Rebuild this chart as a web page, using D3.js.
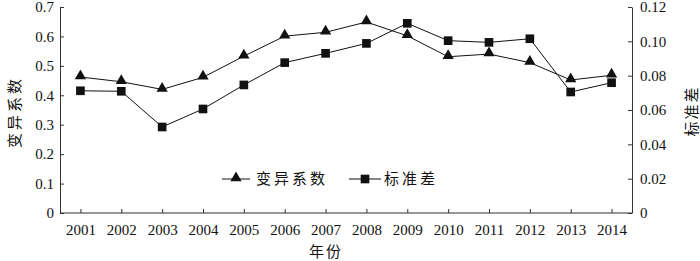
<!DOCTYPE html>
<html><head><meta charset="utf-8">
<script src="https://cdn.jsdelivr.net/npm/d3@7"></script>
<style>body{margin:0;background:#fff}svg{display:block}</style>
</head><body>
<svg id="c" width="700" height="261"></svg>
<script>
const years = ["2001","2002","2003","2004","2005","2006","2007","2008","2009","2010","2011","2012","2013","2014"];
const cv = [0.462,0.446,0.420,0.461,0.533,0.601,0.614,0.649,0.602,0.531,0.540,0.511,0.452,0.468];
const sd = [0.0712,0.0709,0.0501,0.0606,0.0746,0.0876,0.0930,0.0988,0.1105,0.1004,0.0994,0.1015,0.0705,0.0759];
const leftTicks = [0,0.1,0.2,0.3,0.4,0.5,0.6,0.7];
const rightTicks = [0,0.02,0.04,0.06,0.08,0.10,0.12];
const seriesNames = ["变异系数","标准差"];
const xTitle = "年份";

const svg = d3.select("#c");
const L = 60, R = 632, T = 7, B = 213;
const x = d3.scalePoint().domain(years).range([L, R]).padding(0.5);
const yL = d3.scaleLinear().domain([0,0.7]).range([B,T]);
const yR = d3.scaleLinear().domain([0,0.12]).range([B,T]);
const numFont = "Liberation Serif, Times New Roman, serif";
const cjkFont = "'Noto Sans CJK SC',sans-serif";
const axisColor = "#333";

// axes
const gx = svg.append("g").attr("transform",`translate(0,${B})`)
  .call(d3.axisBottom(x).tickSizeInner(-4).tickSizeOuter(0).tickPadding(11));
const gl = svg.append("g").attr("transform",`translate(${L},0)`)
  .call(d3.axisLeft(yL).tickValues(leftTicks).tickFormat(d=>d===0?"0":d3.format(".1f")(d)).tickSizeInner(-4).tickSizeOuter(0).tickPadding(6));
const gr = svg.append("g").attr("transform",`translate(${R},0)`)
  .call(d3.axisRight(yR).tickValues(rightTicks).tickFormat(d=>d===0?"0":d3.format(".2f")(d)).tickSizeInner(-4).tickSizeOuter(0).tickPadding(8));
[gx,gl,gr].forEach(g=>{
  g.attr("font-family",numFont).attr("font-size",15);
  g.selectAll("path,line").attr("stroke",axisColor).attr("stroke-width",1);
  g.selectAll("text").attr("fill","#111");
});
gx.select(".domain").attr("d",`M${L},0H${R}`);

// lines
const lineL = d3.line().x((d,i)=>x(years[i])).y(d=>yL(d));
const lineR = d3.line().x((d,i)=>x(years[i])).y(d=>yR(d));
svg.append("path").attr("d",lineL(cv)).attr("fill","none").attr("stroke","#111").attr("stroke-width",1);
svg.append("path").attr("d",lineR(sd)).attr("fill","none").attr("stroke","#111").attr("stroke-width",1);
const tri = d3.symbol().type(d3.symbolTriangle).size(55);
const sq = d3.symbol().type(d3.symbolSquare).size(75);
svg.append("g").selectAll("path").data(cv).join("path")
  .attr("transform",(d,i)=>`translate(${x(years[i])},${yL(d)-1})`).attr("d",tri).attr("fill","#111");
svg.append("g").selectAll("path").data(sd).join("path")
  .attr("transform",(d,i)=>`translate(${x(years[i])},${yR(d)})`).attr("d",sq).attr("fill","#111");

// legend
const ly = 179;
svg.append("line").attr("x1",222).attr("x2",250).attr("y1",ly).attr("y2",ly).attr("stroke","#111");
svg.append("path").attr("transform",`translate(236,${ly-1})`).attr("d",tri).attr("fill","#111");
svg.append("text").attr("x",256).attr("y",ly+5).text(seriesNames[0]).style("font-family",cjkFont).style("font-size","15px").style("letter-spacing","3px").attr("fill","#111");
svg.append("line").attr("x1",349).attr("x2",381).attr("y1",ly).attr("y2",ly).attr("stroke","#111");
svg.append("path").attr("transform",`translate(365,${ly})`).attr("d",sq).attr("fill","#111");
svg.append("text").attr("x",384).attr("y",ly+5).text(seriesNames[1]).style("font-family",cjkFont).style("font-size","15px").style("letter-spacing","3px").attr("fill","#111");

// titles
svg.append("text").attr("transform","translate(20,112) rotate(-90)").attr("text-anchor","middle")
  .text(seriesNames[0]).style("font-family",cjkFont).style("font-size","15px").style("letter-spacing","3px").attr("fill","#111");
svg.append("text").attr("transform","translate(697,111) rotate(-90)").attr("text-anchor","middle")
  .text(seriesNames[1]).style("font-family",cjkFont).style("font-size","15px").style("letter-spacing","2px").attr("fill","#111");
svg.append("text").attr("x",326).attr("y",257).attr("text-anchor","middle")
  .text(xTitle).style("font-family",cjkFont).style("font-size","15px").style("letter-spacing","2px").attr("fill","#111");
</script>
</body></html>
